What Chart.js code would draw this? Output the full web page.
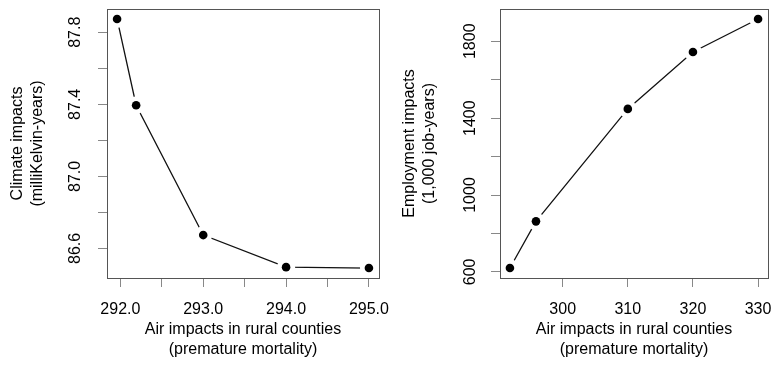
<!DOCTYPE html>
<html>
<head>
<meta charset="utf-8">
<script src="https://cdn.jsdelivr.net/npm/chart.js@4"></script>
<style>
  html, body { margin: 0; padding: 0; background: #ffffff; }
  #wrap { position: relative; width: 777px; height: 367px; overflow: hidden; }
  #leftChart { position: absolute; left: 0; top: 0; }
  #rightChart { position: absolute; left: 390px; top: 0; }
</style>
</head>
<body>
<div id="wrap">
  <canvas id="leftChart" width="390" height="367"></canvas>
  <canvas id="rightChart" width="387" height="367"></canvas>
</div>
<script>
// ---- Data ----
const climateAir = [291.96, 292.19, 293.0, 294.0, 295.0];
const climateImpact = [87.874, 87.395, 86.674, 86.496, 86.491];
const employmentAir = [291.9, 295.9, 310, 320, 330];
const employmentImpact = [620, 863, 1448, 1744, 1916];

// ---- Ticks and labels ----
const climateXTicks = [292, 292.5, 293, 293.5, 294, 294.5, 295];
const climateXLabels = ['292.0', '', '293.0', '', '294.0', '', '295.0'];
const climateYTicks = [86.6, 86.8, 87.0, 87.2, 87.4, 87.6, 87.8];
const climateYLabels = ['86.6', '', '87.0', '', '87.4', '', '87.8'];
const employmentXTicks = [300, 310, 320, 330];
const employmentXLabels = ['300', '310', '320', '330'];
const employmentYTicks = [600, 800, 1000, 1200, 1400, 1600, 1800];
const employmentYLabels = ['600', '', '1000', '', '1400', '', '1800'];

const xTitle = ['Air impacts in rural counties', '(premature mortality)'];
const climateYTitle = ['Climate impacts', '(milliKelvin-years)'];
const employmentYTitle = ['Employment impacts', '(1,000 job-years)'];

const FONT = "'Liberation Sans', Arial, Helvetica, sans-serif";

// R-style axis range: data range extended by 4%
function rRange(vals) {
  const lo = Math.min(...vals), hi = Math.max(...vals);
  const d = (hi - lo) * 0.04;
  return [lo - d, hi + d];
}

function zeroPad(s) {
  s.paddingLeft = 0; s.paddingRight = 0; s.paddingTop = 0; s.paddingBottom = 0;
}

const boxPlugin = {
  id: 'rbox',
  afterDatasetsDraw(chart) {
    const a = chart.chartArea;
    const ctx = chart.ctx;
    ctx.save();
    ctx.strokeStyle = '#555555';
    ctx.lineWidth = 1;
    ctx.strokeRect(Math.round(a.left) + 0.5, Math.round(a.top) + 0.5,
                   Math.round(a.right - a.left), Math.round(a.bottom - a.top));
    ctx.restore();
  }
};

function makePanel(canvasId, xs, ys, xTicks, xLabels, yTicks, yLabels, yTitle, cfg) {
  const pts = xs.map((x, i) => ({ x: x, y: ys[i] }));
  const xr = rRange(xs), yr = rRange(ys);
  return new Chart(document.getElementById(canvasId), {
    type: 'scatter',
    data: {
      datasets: [
        { data: pts, pointRadius: 4.3, pointBackgroundColor: '#000', pointBorderWidth: 0,
          pointBorderColor: '#000', showLine: false, order: 0 },
        { data: pts, pointRadius: 9, pointBackgroundColor: '#fff', pointBorderWidth: 0,
          showLine: false, order: 1, clip: 0 },
        { data: pts, pointRadius: 0, showLine: true, borderColor: '#111', borderWidth: 1.3,
          order: 2, clip: 0 }
      ]
    },
    options: {
      responsive: false,
      devicePixelRatio: 1,
      animation: false,
      events: [],
      layout: { padding: { left: 0, top: 6, right: cfg.padRight, bottom: 0 } },
      plugins: { legend: { display: false }, tooltip: { enabled: false } },
      scales: {
        x: {
          type: 'linear',
          min: xr[0], max: xr[1],
          afterBuildTicks: (s) => { s.ticks = xTicks.map(v => ({ value: v })); },
          afterFit: (s) => { s.height = 89; zeroPad(s); },
          grid: { drawOnChartArea: false, drawTicks: true, tickLength: 9, color: '#888', lineWidth: 1 },
          border: { display: false },
          ticks: {
            autoSkip: false, maxRotation: 0, minRotation: 0, padding: 13,
            color: '#000', font: { family: FONT, size: 16 },
            callback: (v, i) => xLabels[i]
          },
          title: {
            display: true, text: xTitle, color: '#000',
            font: { family: FONT, size: 16, lineHeight: '19.5px' },
            padding: { top: 0, bottom: 8 }
          }
        },
        y: {
          type: 'linear',
          min: yr[0], max: yr[1],
          afterBuildTicks: (s) => { s.ticks = yTicks.map(v => ({ value: v })); },
          afterFit: (s) => { s.width = cfg.yWidth; zeroPad(s); },
          grid: { drawOnChartArea: false, drawTicks: true, tickLength: 9, color: '#888', lineWidth: 1 },
          border: { display: false },
          ticks: {
            autoSkip: false, minRotation: 90, maxRotation: 90, crossAlign: 'center',
            padding: cfg.yTickPad,
            color: '#000', font: { family: FONT, size: 16 },
            callback: (v, i) => yLabels[i]
          },
          title: {
            display: true, text: yTitle, color: '#000',
            font: { family: FONT, size: 16, lineHeight: '20px' },
            padding: { top: cfg.yTitlePad, bottom: 0 }
          }
        }
      }
    },
    plugins: [boxPlugin]
  });
}

makePanel('leftChart', climateAir, climateImpact, climateXTicks, climateXLabels,
  climateYTicks, climateYLabels, climateYTitle,
  { padRight: 11, yWidth: 107, yTickPad: 6.5, yTitlePad: 8 });

makePanel('rightChart', employmentAir, employmentImpact, employmentXTicks, employmentXLabels,
  employmentYTicks, employmentYLabels, employmentYTitle,
  { padRight: 5, yWidth: 110, yTickPad: 3, yTitlePad: 10 });
</script>
</body>
</html>
